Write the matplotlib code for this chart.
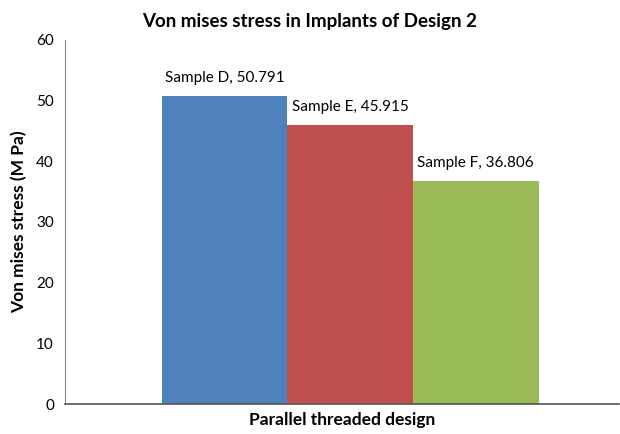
import matplotlib
matplotlib.use("Agg")
import matplotlib.pyplot as plt

samples = ["Sample D", "Sample E", "Sample F"]
values = [50.791, 45.915, 36.806]
colors = ["#4F81BD", "#C0504D", "#9BBB59"]
yticks = [0, 10, 20, 30, 40, 50, 60]

plt.rcParams['font.family'] = ['Lato', 'DejaVu Sans']

fig = plt.figure(figsize=(6.2, 4.34), dpi=100)
ax = fig.add_axes([65/620, 1-404/434, (619-65)/620, (404-40)/434])

pos = [-1, 0, 1]
for p, v, c, s in zip(pos, values, colors, samples):
    ax.bar(p, v, width=1.0, color=c, edgecolor='none')
    ax.annotate(f"{s}, {v}", xy=(p, v), xytext=(0, 8), textcoords='offset points',
                ha='center', va='bottom', fontsize=11, color='#000000')

ax.set_xlim(-2.27, 2.14)
ax.set_ylim(0, 60)
ax.set_yticks(yticks)
ax.set_yticklabels([str(t) for t in yticks], fontsize=11)
ax.tick_params(axis='y', length=0, pad=8)
ax.set_xticks([])
for sp in ['top', 'right']:
    ax.spines[sp].set_visible(False)
ax.spines['left'].set_color('#888888')
ax.spines['bottom'].set_color('#555555')
ax.spines['bottom'].set_linewidth(1.2)

ax.set_xlabel("Parallel threaded design", fontsize=12.5, fontweight='bold', labelpad=6)
ax.set_ylabel("Von mises stress (M Pa)", fontsize=12.5, fontweight='bold', labelpad=6)
fig.text(0.5, 1-22/434, "Von mises stress in Implants of Design 2", ha='center', va='center',
         fontsize=13.5, fontweight='bold')

fig.savefig("out.png", dpi=100)
